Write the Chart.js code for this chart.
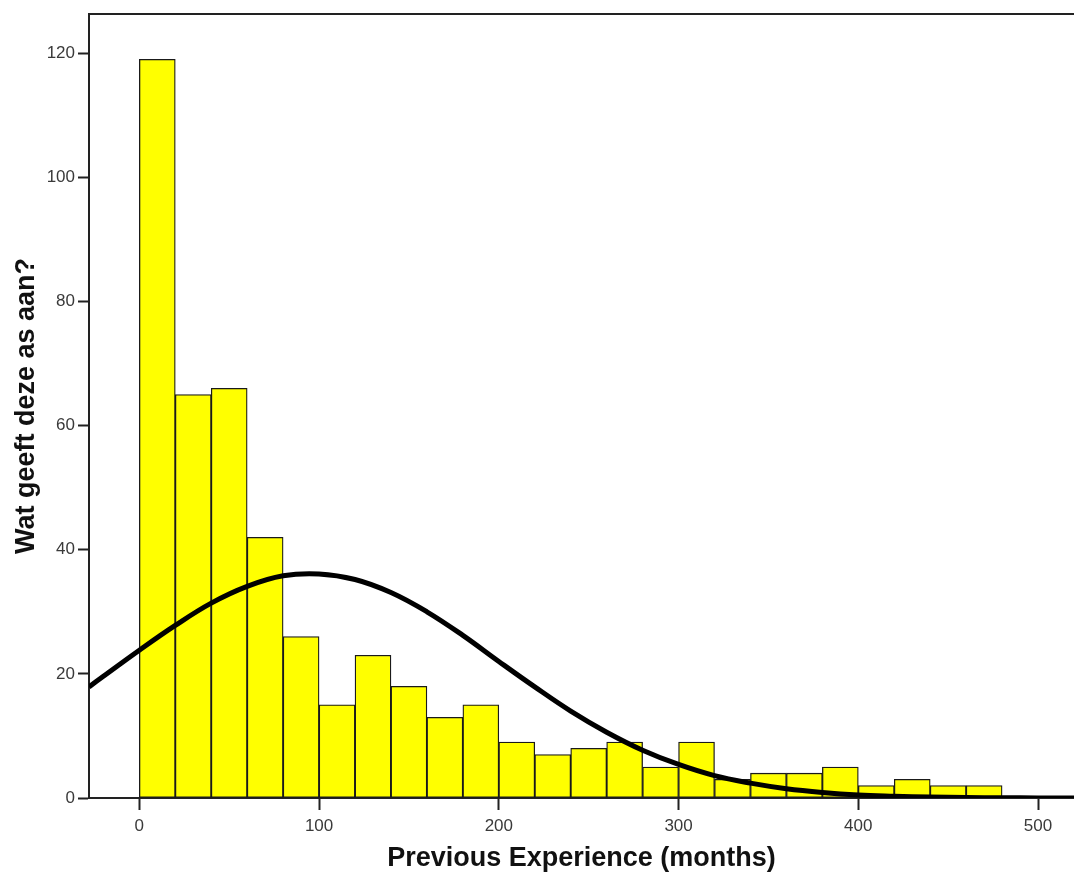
<!DOCTYPE html>
<html lang="nl">
<head>
  <meta charset="UTF-8">
  <title>Previous Experience histogram</title>
  <script src="https://cdn.jsdelivr.net/npm/chart.js"></script>
  <style>
    html, body { margin: 0; padding: 0; background: #fff; }
    .chart-container { width: 1074px; height: 873px; }
  </style>
</head>
<body>
  <div class="chart-container">
    <canvas id="chart"></canvas>
  </div>

  <script>
    // histogram bins (months), width 20
    const binCenters = [10, 30, 50, 70, 90, 110, 130, 150, 170, 190, 210, 230,
                        250, 270, 290, 310, 330, 350, 370, 390, 410, 430, 450, 470];
    const counts = [119, 65, 66, 42, 26, 15, 23, 18, 13, 15, 9, 7,
                    8, 9, 5, 9, 3, 4, 4, 5, 2, 3, 2, 2];

    // normal curve
    const curveX = [-28, -20, 0, 20, 40, 60, 80, 100, 120, 140, 160, 180, 200, 220,
                    240, 260, 280, 300, 320, 340, 360, 380, 400, 420, 440, 460, 480, 500, 520];
    const curveY = [17.9, 19.6, 23.8, 27.8, 31.4, 34.1, 35.8, 36.1, 35.2, 33.1, 30.0, 26.2, 22.0, 17.9,
                    14.0, 10.6, 7.7, 5.4, 3.6, 2.4, 1.5, 0.9, 0.5, 0.3, 0.16, 0.08, 0.04, 0.02, 0.01];

    const xTicks = [0, 100, 200, 300, 400, 500];
    const yTicks = [0, 20, 40, 60, 80, 100, 120];

    const tickFont = { family: "'Liberation Sans', Arial, sans-serif", size: 17 };
    const titleFont = { family: "'Liberation Sans', Arial, sans-serif", size: 27, weight: 'bold', lineHeight: 1.05 };

    const ctx = document.getElementById("chart").getContext("2d");
    new Chart(ctx, {
      type: "bar",
      data: {
        datasets: [
          {
            type: "line",
            data: curveX.map((x, i) => ({ x: x, y: curveY[i] })),
            borderColor: "#000",
            borderWidth: 5,
            pointRadius: 0,
            tension: 0.4,
            order: 0
          },
          {
            type: "bar",
            data: binCenters.map((x, i) => ({ x: x, y: counts[i] })),
            backgroundColor: "#ffff00",
            borderColor: "#1a1a1a",
            borderWidth: 1.3,
            borderSkipped: false,
            barPercentage: 1,
            categoryPercentage: 1,
            order: 1
          }
        ]
      },
      options: {
        responsive: true,
        maintainAspectRatio: false,
        animation: false,
        layout: { padding: { top: 14, right: 0, left: 0, bottom: 0 } },
        plugins: { legend: { display: false }, tooltip: { enabled: false } },
        scales: {
          x: {
            type: "linear",
            position: "bottom",
            offset: false,
            min: -28,
            max: 520,
            afterBuildTicks: axis => { axis.ticks = xTicks.map(v => ({ value: v })); },
            afterFit: axis => { axis.height = 75; },
            grid: { offset: false, drawOnChartArea: false, drawTicks: true, tickLength: 12, tickWidth: 2, tickColor: "#222" },
            border: { display: true, color: "#222", width: 2 },
            ticks: { color: "#3a3a3a", font: tickFont, padding: 6 },
            title: { display: true, text: "Previous Experience (months)", color: "#111", font: titleFont, padding: { top: 0, bottom: 0 } }
          },
          x2: {
            type: "linear",
            position: "top",
            offset: false,
            min: -28,
            max: 520,
            afterFit: axis => { axis.height = 0; },
            grid: { display: false },
            ticks: { display: false },
            border: { display: true, color: "#222", width: 2 }
          },
          y: {
            type: "linear",
            min: 0,
            max: 126.3,
            afterBuildTicks: axis => { axis.ticks = yTicks.map(v => ({ value: v })); },
            afterFit: axis => { axis.width = 89; },
            grid: { drawOnChartArea: false, drawTicks: true, tickLength: 11, tickWidth: 2, tickColor: "#222" },
            border: { display: true, color: "#222", width: 2 },
            ticks: { color: "#3a3a3a", font: tickFont, padding: 3 },
            title: { display: true, text: "Wat geeft deze as aan?", color: "#111", font: titleFont, padding: { top: 12, bottom: 0 } }
          }
        }
      }
    });
  </script>
</body>
</html>
